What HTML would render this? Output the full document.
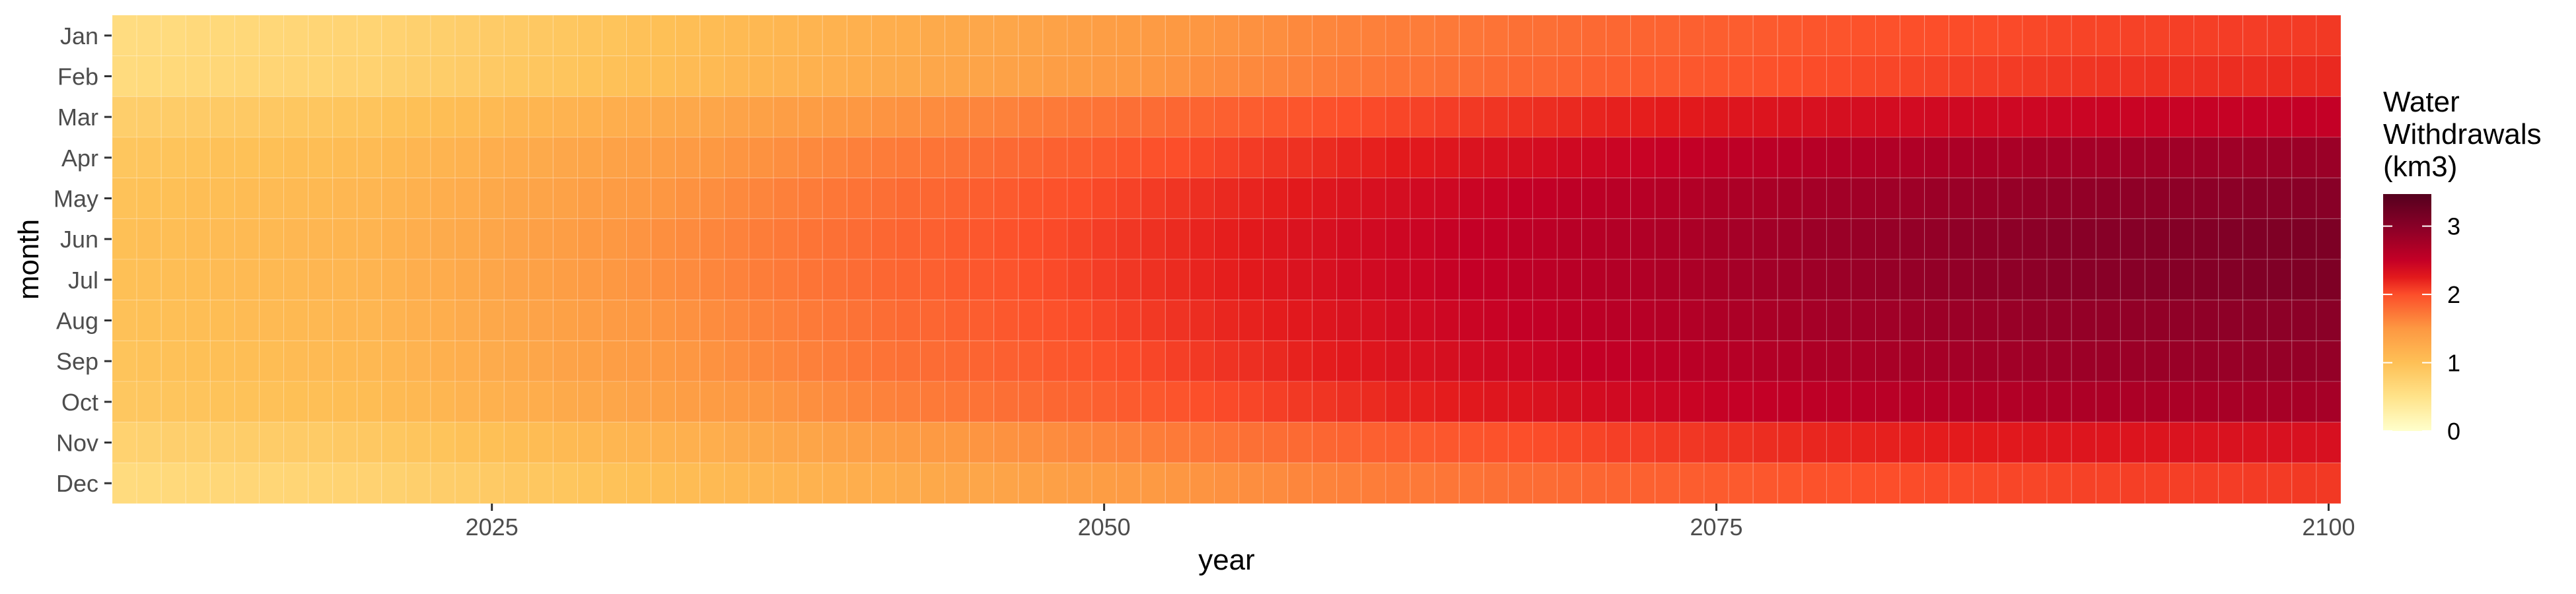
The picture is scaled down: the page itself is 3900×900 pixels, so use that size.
<!DOCTYPE html>
<html><head><meta charset="utf-8"><style>
html,body{margin:0;padding:0;background:#fff;}
svg{display:block;font-family:"Liberation Sans",Arial,sans-serif;}
</style></head><body>
<svg id="chart" width="3900" height="900" viewBox="0 0 3900 900" xmlns="http://www.w3.org/2000/svg">
<g id="cells"></g>
<g id="axes"></g>
<g id="legend"></g>
</svg>
<script>
const months = ["Jan","Feb","Mar","Apr","May","Jun","Jul","Aug","Sep","Oct","Nov","Dec"];
const firstYear = 2010;
const xTicks = [2025, 2050, 2075, 2100];
const legendTicks = [0, 1, 2, 3];
const legendMax = 3.47;
const valJan = [0.60,0.61,0.62,0.64,0.65,0.66,0.67,0.68,0.70,0.71,0.72,0.74,0.77,0.79,0.81,0.84,0.86,0.88,0.90,0.93,0.95,0.98,1.00,1.03,1.05,1.08,1.10,1.13,1.15,1.18,1.20,1.22,1.24,1.27,1.29,1.31,1.33,1.35,1.38,1.40,1.42,1.44,1.46,1.49,1.51,1.53,1.55,1.57,1.60,1.62,1.64,1.66,1.68,1.69,1.71,1.73,1.75,1.77,1.78,1.80,1.82,1.83,1.85,1.86,1.88,1.89,1.90,1.92,1.93,1.95,1.96,1.97,1.98,1.99,2.00,2.01,2.01,2.02,2.03,2.04,2.05,2.05,2.06,2.06,2.07,2.07,2.08,2.08,2.09,2.09,2.10];
const valFeb = [0.62,0.63,0.65,0.66,0.67,0.69,0.70,0.71,0.72,0.74,0.75,0.77,0.80,0.82,0.84,0.87,0.89,0.91,0.93,0.96,0.98,1.01,1.03,1.06,1.08,1.11,1.14,1.16,1.19,1.21,1.24,1.26,1.28,1.31,1.33,1.35,1.37,1.39,1.42,1.44,1.46,1.48,1.51,1.53,1.56,1.58,1.60,1.63,1.65,1.68,1.70,1.72,1.74,1.75,1.77,1.79,1.81,1.83,1.84,1.86,1.88,1.89,1.91,1.92,1.94,1.95,1.96,1.98,1.99,2.01,2.02,2.03,2.04,2.05,2.06,2.07,2.08,2.09,2.10,2.11,2.12,2.13,2.13,2.14,2.14,2.15,2.16,2.16,2.17,2.17,2.18];
const valMar = [0.80,0.81,0.83,0.84,0.86,0.87,0.88,0.90,0.91,0.93,0.94,0.97,1.00,1.02,1.05,1.08,1.11,1.14,1.16,1.19,1.22,1.25,1.28,1.30,1.33,1.36,1.39,1.42,1.44,1.47,1.50,1.53,1.55,1.58,1.60,1.63,1.65,1.68,1.70,1.73,1.75,1.78,1.80,1.83,1.85,1.88,1.90,1.93,1.95,1.98,2.00,2.02,2.04,2.06,2.08,2.10,2.12,2.14,2.16,2.18,2.20,2.22,2.23,2.25,2.26,2.28,2.30,2.31,2.33,2.34,2.36,2.37,2.38,2.39,2.40,2.41,2.41,2.42,2.43,2.44,2.45,2.46,2.46,2.47,2.47,2.48,2.48,2.49,2.49,2.50,2.50];
const valApr = [0.92,0.93,0.95,0.96,0.98,0.99,1.00,1.02,1.03,1.05,1.06,1.09,1.12,1.15,1.18,1.22,1.25,1.28,1.31,1.34,1.37,1.40,1.43,1.46,1.49,1.52,1.54,1.57,1.60,1.63,1.66,1.69,1.71,1.74,1.76,1.79,1.82,1.84,1.87,1.89,1.92,1.95,1.98,2.00,2.03,2.06,2.09,2.12,2.14,2.17,2.20,2.22,2.25,2.27,2.29,2.32,2.34,2.36,2.38,2.41,2.43,2.45,2.47,2.49,2.51,2.53,2.55,2.57,2.59,2.61,2.63,2.64,2.66,2.67,2.68,2.70,2.71,2.72,2.74,2.75,2.76,2.77,2.78,2.79,2.80,2.81,2.81,2.82,2.83,2.84,2.85];
const valMay = [0.97,0.99,1.00,1.02,1.03,1.05,1.06,1.08,1.09,1.11,1.12,1.15,1.19,1.22,1.25,1.29,1.32,1.35,1.38,1.42,1.45,1.48,1.51,1.54,1.57,1.60,1.63,1.66,1.69,1.72,1.75,1.78,1.81,1.83,1.86,1.89,1.92,1.95,1.97,2.00,2.03,2.06,2.09,2.12,2.15,2.18,2.20,2.23,2.26,2.29,2.32,2.35,2.37,2.40,2.42,2.45,2.47,2.50,2.52,2.55,2.57,2.59,2.61,2.63,2.65,2.68,2.70,2.72,2.74,2.76,2.78,2.79,2.81,2.82,2.84,2.85,2.86,2.88,2.89,2.91,2.92,2.93,2.94,2.94,2.95,2.96,2.97,2.98,2.98,2.99,3.00];
const valJun = [1.00,1.02,1.03,1.05,1.06,1.08,1.09,1.11,1.12,1.14,1.15,1.19,1.22,1.26,1.29,1.33,1.36,1.40,1.43,1.47,1.50,1.53,1.56,1.59,1.62,1.65,1.68,1.71,1.74,1.77,1.80,1.83,1.86,1.88,1.91,1.94,1.97,2.00,2.02,2.05,2.08,2.11,2.14,2.17,2.20,2.23,2.26,2.29,2.32,2.35,2.38,2.40,2.43,2.45,2.48,2.50,2.52,2.55,2.57,2.60,2.62,2.64,2.67,2.69,2.71,2.74,2.76,2.78,2.80,2.83,2.85,2.87,2.88,2.90,2.91,2.93,2.94,2.96,2.97,2.99,3.00,3.01,3.02,3.03,3.04,3.05,3.06,3.07,3.08,3.09,3.10];
const valJul = [1.00,1.01,1.03,1.04,1.06,1.07,1.09,1.10,1.12,1.13,1.15,1.18,1.22,1.25,1.29,1.32,1.36,1.39,1.43,1.46,1.50,1.53,1.56,1.59,1.62,1.65,1.68,1.71,1.74,1.77,1.80,1.83,1.85,1.88,1.91,1.94,1.96,1.99,2.02,2.05,2.08,2.11,2.14,2.17,2.20,2.23,2.26,2.29,2.32,2.35,2.38,2.40,2.43,2.45,2.48,2.50,2.52,2.55,2.57,2.59,2.62,2.64,2.66,2.69,2.71,2.73,2.76,2.78,2.80,2.82,2.84,2.86,2.88,2.89,2.91,2.92,2.94,2.95,2.96,2.98,2.99,3.00,3.01,3.02,3.03,3.04,3.05,3.06,3.07,3.08,3.09];
const valAug = [0.98,1.00,1.01,1.03,1.04,1.06,1.07,1.09,1.10,1.12,1.13,1.16,1.20,1.23,1.26,1.30,1.33,1.36,1.39,1.43,1.46,1.49,1.52,1.55,1.58,1.61,1.64,1.67,1.70,1.73,1.76,1.79,1.82,1.84,1.87,1.90,1.93,1.96,1.98,2.01,2.04,2.07,2.10,2.13,2.16,2.19,2.21,2.24,2.27,2.30,2.33,2.35,2.38,2.40,2.43,2.45,2.47,2.50,2.52,2.55,2.57,2.59,2.61,2.63,2.65,2.68,2.70,2.72,2.74,2.76,2.78,2.79,2.80,2.82,2.83,2.84,2.85,2.87,2.88,2.89,2.90,2.91,2.92,2.92,2.93,2.94,2.95,2.96,2.96,2.97,2.98];
const valSep = [0.95,0.97,0.98,1.00,1.01,1.03,1.04,1.06,1.07,1.09,1.10,1.13,1.16,1.20,1.23,1.26,1.29,1.32,1.36,1.39,1.42,1.45,1.48,1.51,1.54,1.57,1.60,1.63,1.66,1.69,1.72,1.75,1.77,1.80,1.82,1.85,1.88,1.90,1.93,1.95,1.98,2.01,2.04,2.07,2.10,2.13,2.15,2.18,2.21,2.24,2.27,2.29,2.32,2.34,2.36,2.39,2.41,2.43,2.45,2.48,2.50,2.52,2.54,2.56,2.58,2.60,2.62,2.64,2.66,2.68,2.70,2.71,2.73,2.74,2.75,2.77,2.78,2.79,2.80,2.82,2.83,2.84,2.84,2.85,2.86,2.87,2.87,2.88,2.89,2.89,2.90];
const valOct = [0.90,0.91,0.93,0.94,0.96,0.97,0.98,1.00,1.01,1.03,1.04,1.07,1.10,1.13,1.16,1.19,1.21,1.24,1.27,1.30,1.33,1.36,1.39,1.42,1.45,1.48,1.50,1.53,1.56,1.59,1.62,1.65,1.67,1.70,1.72,1.75,1.78,1.80,1.83,1.85,1.88,1.91,1.93,1.96,1.99,2.02,2.04,2.07,2.10,2.12,2.15,2.17,2.20,2.22,2.24,2.27,2.29,2.31,2.33,2.36,2.38,2.40,2.42,2.44,2.46,2.48,2.49,2.51,2.53,2.55,2.57,2.58,2.59,2.61,2.62,2.63,2.64,2.65,2.67,2.68,2.69,2.70,2.70,2.71,2.71,2.72,2.73,2.73,2.74,2.74,2.75];
const valNov = [0.75,0.76,0.78,0.79,0.80,0.82,0.83,0.84,0.85,0.87,0.88,0.90,0.93,0.95,0.98,1.00,1.02,1.05,1.07,1.10,1.12,1.15,1.18,1.20,1.23,1.26,1.29,1.32,1.34,1.37,1.40,1.42,1.45,1.47,1.49,1.52,1.54,1.56,1.58,1.61,1.63,1.65,1.68,1.70,1.72,1.75,1.77,1.79,1.81,1.84,1.86,1.88,1.90,1.92,1.94,1.96,1.97,1.99,2.01,2.03,2.05,2.07,2.08,2.10,2.11,2.13,2.14,2.16,2.17,2.19,2.20,2.21,2.22,2.23,2.24,2.25,2.26,2.27,2.28,2.29,2.30,2.30,2.31,2.31,2.32,2.32,2.33,2.33,2.34,2.34,2.35];
const valDec = [0.62,0.63,0.64,0.66,0.67,0.68,0.69,0.70,0.72,0.73,0.74,0.76,0.79,0.81,0.83,0.86,0.88,0.90,0.92,0.95,0.97,1.00,1.02,1.05,1.07,1.10,1.12,1.15,1.17,1.20,1.22,1.24,1.26,1.29,1.31,1.33,1.35,1.37,1.40,1.42,1.44,1.46,1.48,1.51,1.53,1.55,1.57,1.59,1.62,1.64,1.66,1.68,1.70,1.71,1.73,1.75,1.77,1.79,1.80,1.82,1.84,1.85,1.87,1.88,1.90,1.91,1.92,1.94,1.95,1.97,1.98,1.99,2.00,2.01,2.02,2.02,2.03,2.04,2.04,2.05,2.06,2.06,2.07,2.07,2.07,2.08,2.08,2.09,2.09,2.10,2.10];
const rows = [valJan,valFeb,valMar,valApr,valMay,valJun,valJul,valAug,valSep,valOct,valNov,valDec];

const NS = "http://www.w3.org/2000/svg";
const P = {left:170, right:3544, top:23, bottom:763};
const nYears = rows[0].length;
const cellW = (P.right - P.left) / nYears;
const cellH = (P.bottom - P.top) / months.length;
function xScale(year){ return P.left + (year - firstYear + 0.5) * cellW; }
function yScale(mi){ return P.top + (mi + 0.5) * cellH; }
const stops = [[0,[255,255,204]],[0.5,[255,227,138]],[1,[254,192,86]],[1.5,[253,152,66]],[2,[252,78,42]],[2.25,[227,26,28]],[2.5,[196,0,38]],[3,[136,0,39]],[3.47,[85,0,30]]];
function color(v){
  if (v <= stops[0][0]) return "rgb("+stops[0][1].join(",")+")";
  for (let i=1;i<stops.length;i++){
    if (v <= stops[i][0]){
      const a=stops[i-1], b=stops[i], t=(v-a[0])/(b[0]-a[0]);
      return "rgb("+a[1].map((c,k)=>Math.round(c+(b[1][k]-c)*t)).join(",")+")";
    }
  }
  return "rgb("+stops[stops.length-1][1].join(",")+")";
}
function mk(tag, attrs, parent){
  const e=document.createElementNS(NS,tag);
  for (const k in attrs) e.setAttribute(k, attrs[k]);
  parent.appendChild(e); return e;
}
const cells=document.getElementById("cells");
rows.forEach((row, mi)=>{
  row.forEach((v, yi)=>{
    const r=mk("rect",{x:xScale(firstYear+yi)-cellW/2, y:yScale(mi)-cellH/2, width:cellW, height:cellH, fill:color(v), stroke:"#ffffff", "stroke-opacity":"0.22", "stroke-width":"1"}, cells);
    
    
  });
});
const axes=document.getElementById("axes");
months.forEach((m, mi)=>{
  const y=yScale(mi);
  const t=mk("line",{x1:158,x2:169,y1:y,y2:y,stroke:"#333333","stroke-width":"3"},axes);
  
  
  const l=mk("text",{x:149,y:y+13,"text-anchor":"end","font-size":"36",fill:"#4D4D4D"},axes);
  l.textContent=m;
  
  
});
xTicks.forEach(yr=>{
  const x=xScale(yr);
  const t=mk("line",{x1:x,x2:x,y1:763,y2:774,stroke:"#333333","stroke-width":"3"},axes);
  
  
  const l=mk("text",{x:x,y:811,"text-anchor":"middle","font-size":"36",fill:"#4D4D4D"},axes);
  l.textContent=String(yr);
  
  
});
const xt=mk("text",{x:(P.left+P.right)/2,y:863,"text-anchor":"middle","font-size":"44",fill:"#000"},axes);
xt.textContent="year";


const yt=mk("text",{x:0,y:0,"text-anchor":"middle","font-size":"44",fill:"#000",transform:"translate(58,393) rotate(-90)"},axes);
yt.textContent="month";



const lg=document.getElementById("legend");
["Water","Withdrawals","(km3)"].forEach((s,i)=>{
  const t=mk("text",{x:3608,y:169+i*49,"font-size":"44",fill:"#000"},lg);
  t.textContent=s;
  
  
});
const CB={x:3608,w:73,top:294,bottom:653};
function lScale(v){ return CB.bottom - v/legendMax*(CB.bottom-CB.top); }
const defs=mk("defs",{},lg);
const grad=mk("linearGradient",{id:"cbgrad",x1:"0",y1:"1",x2:"0",y2:"0"},defs);
stops.forEach(s=>{ mk("stop",{offset:(s[0]/legendMax).toFixed(4),"stop-color":"rgb("+s[1].join(",")+")"},grad); });
const bar=mk("rect",{x:CB.x,y:CB.top,width:CB.w,height:CB.bottom-CB.top,fill:"url(#cbgrad)"},lg);


legendTicks.forEach(v=>{
  const y=lScale(v);
  const a=mk("line",{x1:CB.x,x2:CB.x+14,y1:y,y2:y,stroke:"#fff","stroke-width":"2"},lg);
  
  
  const b=mk("line",{x1:CB.x+CB.w-14,x2:CB.x+CB.w,y1:y,y2:y,stroke:"#fff","stroke-width":"2"},lg);
  
  
  const l=mk("text",{x:3705,y:y+13,"font-size":"36",fill:"#000"},lg);
  l.textContent=String(v);
  
  
});
</script>
</body></html>
